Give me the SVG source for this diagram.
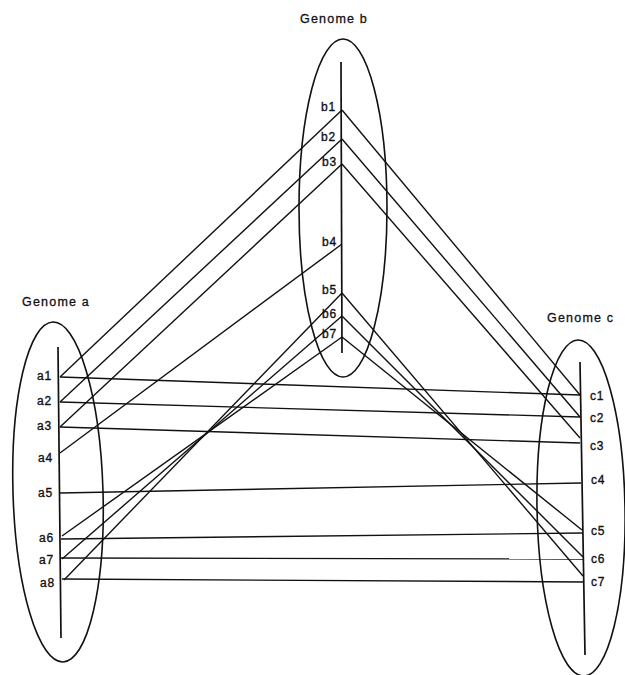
<svg xmlns="http://www.w3.org/2000/svg" width="625" height="675" viewBox="0 0 625 675">
<style>
.bg{fill:#fff}
.ell{fill:none;stroke:#111;stroke-width:1.6}
.axis{stroke:#111;stroke-width:1.7;fill:none}
.con line{stroke:#111;stroke-width:1.4}
.t{font-family:"Liberation Sans",Arial,sans-serif;font-size:12px;fill:#111;stroke:#111;stroke-width:0.35;letter-spacing:0.8px}
.title{font-family:"Liberation Sans",Arial,sans-serif;font-size:12.5px;fill:#111;stroke:#111;stroke-width:0.3;letter-spacing:1.2px}
.e{text-anchor:end}
</style>
<rect class="bg" width="625" height="675"/>
<g id="genome-a">
<text class="title" x="22" y="306">Genome a</text>
<ellipse class="ell" cx="58" cy="492" rx="45" ry="170" transform="rotate(-1.7 58 492)"/>
<line class="axis" x1="58" y1="347" x2="61" y2="638"/>
<text class="t e" x="52" y="380">a1</text>
<text class="t e" x="52" y="405">a2</text>
<text class="t e" x="52" y="430">a3</text>
<text class="t e" x="53" y="462">a4</text>
<text class="t e" x="53" y="497">a5</text>
<text class="t e" x="54" y="542">a6</text>
<text class="t e" x="54" y="564">a7</text>
<text class="t e" x="55" y="587">a8</text>
</g>
<g id="genome-b">
<text class="title" x="300" y="23">Genome b</text>
<ellipse class="ell" cx="343" cy="208" rx="44" ry="169"/>
<line class="axis" x1="341" y1="62" x2="342" y2="353"/>
<text class="t e" x="336" y="111">b1</text>
<text class="t e" x="336" y="141">b2</text>
<text class="t e" x="337" y="166">b3</text>
<text class="t e" x="337" y="246">b4</text>
<text class="t e" x="337" y="294">b5</text>
<text class="t e" x="337" y="318">b6</text>
<text class="t e" x="337" y="338">b7</text>
</g>
<g id="genome-c">
<text class="title" x="547" y="322">Genome c</text>
<ellipse class="ell" cx="581" cy="508" rx="44" ry="168" transform="rotate(-1 581 508)"/>
<line class="axis" x1="580" y1="362" x2="585" y2="655"/>
<text class="t" x="590" y="400">c1</text>
<text class="t" x="590" y="422">c2</text>
<text class="t" x="590" y="450">c3</text>
<text class="t" x="591" y="484">c4</text>
<text class="t" x="591" y="535">c5</text>
<text class="t" x="591" y="563">c6</text>
<text class="t" x="591" y="586">c7</text>
</g>
<g id="connectors" class="con">
<line x1="60" y1="377" x2="342" y2="110"/>
<line x1="60" y1="402" x2="342" y2="139"/>
<line x1="60" y1="427" x2="342" y2="164"/>
<line x1="60" y1="453" x2="342" y2="244"/>
<line x1="342" y1="293" x2="64" y2="580"/>
<line x1="342" y1="316" x2="62" y2="559"/>
<line x1="342" y1="337" x2="62" y2="536"/>
<line x1="342" y1="110" x2="580" y2="395"/>
<line x1="342" y1="139" x2="580" y2="417"/>
<line x1="342" y1="164" x2="580" y2="438"/>
<line x1="342" y1="293" x2="583" y2="576"/>
<line x1="342" y1="316" x2="583" y2="557"/>
<line x1="342" y1="337" x2="582" y2="530"/>
<line x1="60" y1="377" x2="580" y2="395"/>
<line x1="60" y1="402" x2="580" y2="417"/>
<line x1="60" y1="427" x2="580" y2="443"/>
<line x1="60" y1="493" x2="581" y2="483"/>
<line x1="61" y1="539" x2="582" y2="533"/>
<line x1="61" y1="558" x2="583" y2="559"/>
<line x1="62" y1="579" x2="584" y2="582"/>
</g>
</svg>
